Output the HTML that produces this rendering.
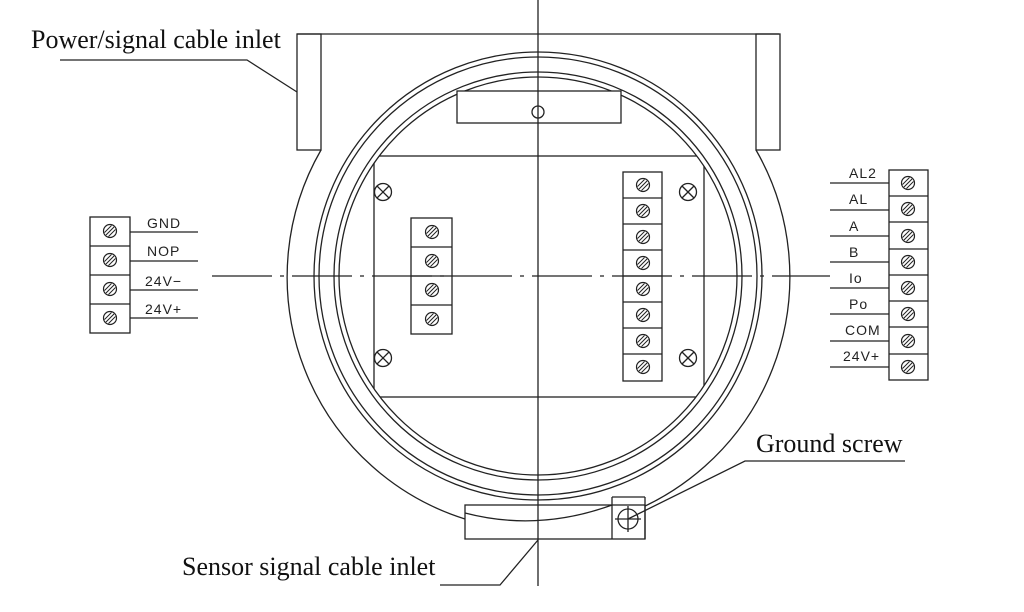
<!DOCTYPE html>
<html><head><meta charset="utf-8"><style>
html,body{margin:0;padding:0;background:#fff}
svg{display:block}
.t{font-family:"Liberation Serif",serif;font-size:26px;fill:#111}
.m{font-family:"Liberation Sans","DejaVu Sans",sans-serif;font-size:14px;fill:#222;letter-spacing:1px}
</style></head><body>
<svg width="1024" height="612" viewBox="0 0 1024 612" xmlns="http://www.w3.org/2000/svg" fill="none" stroke="#222" stroke-width="1.3">
<defs>
<clipPath id="pc"><circle cx="538" cy="276" r="199"/></clipPath>
<g id="sc"><circle r="6.5" stroke-width="1.2"/><line x1="-4" y1="4" x2="4" y2="-4" stroke-width="1.1"/><line x1="-5.5" y1="1.5" x2="1.5" y2="-5.5" stroke-width="1"/><line x1="-1.5" y1="5.5" x2="5.5" y2="-1.5" stroke-width="1"/></g>
<g id="cx"><circle r="8.5"/><line x1="-6" y1="-6" x2="6" y2="6"/><line x1="-6" y1="6" x2="6" y2="-6"/></g>
</defs>
<line x1="297" y1="34" x2="779" y2="34"/>
<rect x="297" y="34" width="24" height="116"/>
<rect x="756" y="34" width="24" height="116"/>
<path d="M321 150 A254 254 0 0 0 465 519"/>
<path d="M756 150 A254 254 0 0 1 612 519"/>
<circle cx="538" cy="276" r="224"/>
<circle cx="538" cy="276" r="219"/>
<circle cx="538" cy="276" r="204"/>
<circle cx="538" cy="276" r="199"/>
<rect x="465" y="505" width="180" height="34" fill="#fff"/>
<path d="M465 513 Q538 532 612 505" />
<line x1="612" y1="497" x2="612" y2="539"/>
<line x1="612" y1="497" x2="645" y2="497"/>
<line x1="645" y1="497" x2="645" y2="539"/>
<circle cx="628" cy="519" r="10"/>
<line x1="628" y1="506" x2="628" y2="532"/>
<line x1="615" y1="519" x2="641" y2="519"/>
<rect x="457" y="91" width="164" height="32" fill="#fff"/>
<circle cx="538" cy="112" r="6"/>
<rect x="374" y="156" width="330" height="241" clip-path="url(#pc)"/>
<use href="#cx" x="383" y="192"/>
<use href="#cx" x="688" y="192"/>
<use href="#cx" x="383" y="358"/>
<use href="#cx" x="688" y="358"/>
<line x1="538" y1="0" x2="538" y2="586"/>
<line x1="212" y1="276" x2="830" y2="276" stroke-dasharray="60 8 4 8"/>
<rect x="411" y="218" width="41" height="116"/>
<line x1="411" y1="247" x2="452" y2="247"/><line x1="411" y1="276" x2="452" y2="276"/><line x1="411" y1="305" x2="452" y2="305"/>
<use href="#sc" x="432" y="232"/><use href="#sc" x="432" y="261"/><use href="#sc" x="432" y="290"/><use href="#sc" x="432" y="319"/>
<rect x="623" y="172" width="39" height="209"/>
<line x1="623" y1="198" x2="662" y2="198"/><line x1="623" y1="224" x2="662" y2="224"/><line x1="623" y1="250" x2="662" y2="250"/><line x1="623" y1="276" x2="662" y2="276"/><line x1="623" y1="302" x2="662" y2="302"/><line x1="623" y1="328" x2="662" y2="328"/><line x1="623" y1="354" x2="662" y2="354"/>
<use href="#sc" x="643" y="185"/><use href="#sc" x="643" y="211"/><use href="#sc" x="643" y="237"/><use href="#sc" x="643" y="263"/><use href="#sc" x="643" y="289"/><use href="#sc" x="643" y="315"/><use href="#sc" x="643" y="341"/><use href="#sc" x="643" y="367"/>
<rect x="90" y="217" width="40" height="116"/>
<line x1="90" y1="246" x2="130" y2="246"/><line x1="90" y1="275" x2="130" y2="275"/><line x1="90" y1="304" x2="130" y2="304"/>
<use href="#sc" x="110" y="231"/><use href="#sc" x="110" y="260"/><use href="#sc" x="110" y="289"/><use href="#sc" x="110" y="318"/>
<line x1="130" y1="232" x2="198" y2="232"/><line x1="130" y1="261" x2="198" y2="261"/><line x1="130" y1="290" x2="198" y2="290"/><line x1="130" y1="318" x2="198" y2="318"/>
<g stroke="none"><text class="m" x="147" y="228">GND</text><text class="m" x="147" y="256">NOP</text><text class="m" x="145" y="286">24V−</text><text class="m" x="145" y="314">24V+</text></g>
<rect x="889" y="170" width="39" height="210"/>
<line x1="889" y1="196" x2="928" y2="196"/><line x1="889" y1="222" x2="928" y2="222"/><line x1="889" y1="249" x2="928" y2="249"/><line x1="889" y1="275" x2="928" y2="275"/><line x1="889" y1="301" x2="928" y2="301"/><line x1="889" y1="327" x2="928" y2="327"/><line x1="889" y1="354" x2="928" y2="354"/>
<use href="#sc" x="908" y="183"/><use href="#sc" x="908" y="209"/><use href="#sc" x="908" y="236"/><use href="#sc" x="908" y="262"/><use href="#sc" x="908" y="288"/><use href="#sc" x="908" y="314"/><use href="#sc" x="908" y="341"/><use href="#sc" x="908" y="367"/>
<line x1="830" y1="183" x2="889" y2="183"/><line x1="830" y1="210" x2="889" y2="210"/><line x1="830" y1="236" x2="889" y2="236"/><line x1="830" y1="262" x2="889" y2="262"/><line x1="830" y1="288" x2="889" y2="288"/><line x1="830" y1="314" x2="889" y2="314"/><line x1="830" y1="341" x2="889" y2="341"/><line x1="830" y1="367" x2="889" y2="367"/>
<g stroke="none"><text class="m" x="849" y="178">AL2</text><text class="m" x="849" y="204">AL</text><text class="m" x="849" y="231">A</text><text class="m" x="849" y="257">B</text><text class="m" x="849" y="283">Io</text><text class="m" x="849" y="309">Po</text><text class="m" x="845" y="335">COM</text><text class="m" x="843" y="361">24V+</text></g>
<polyline points="60,60 247,60 297,92"/>
<polyline points="905,461 745,461 628,519"/>
<polyline points="440,585 500,585 538,540" />
<g stroke="none">
<text class="t" x="31" y="48">Power/signal cable inlet</text>
<text class="t" x="756" y="452">Ground screw</text>
<text class="t" x="182" y="575">Sensor signal cable inlet</text>
</g>
</svg>
</body></html>
